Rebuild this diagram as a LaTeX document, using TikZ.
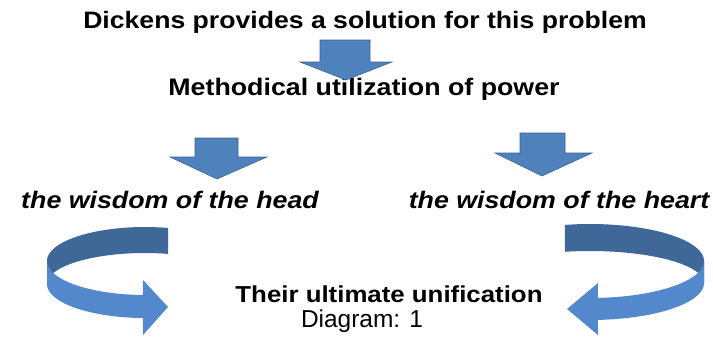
\documentclass[tikz,border=0pt]{standalone}
\usepackage{fontspec}
\setmainfont{Liberation Sans}
\newfontfamily\widesans[FakeStretch=1.12]{Liberation Sans}
\usepackage{tikz}
\definecolor{dblue}{HTML}{4F81BD}
\definecolor{dblueedge}{HTML}{3B6494}
\definecolor{ringback}{HTML}{3F6899}
\definecolor{ringfront}{HTML}{5488CC}
\tikzset{
  headline/.style={anchor=base, inner sep=0pt, text=black},
  boldline/.style={headline, font=\widesans\bfseries\fontsize{#1}{#1}\selectfont},
  slantline/.style={headline, font=\widesans\bfseries\itshape\fontsize{#1}{#1}\selectfont},
  plainline/.style={headline, font=\fontsize{#1}{#1}\selectfont},
  blockarr/.style={fill=dblue, draw=dblueedge, line width=0.4pt, line join=miter},
  ringbk/.style={fill=ringback},
  ringfr/.style={fill=ringfront},
}

\begin{document}
\begin{tikzpicture}[x=0.025cm, y=-0.025cm]
  \useasboundingbox (0,0) rectangle (713,344);

  % texts
  \node[boldline=16.9] (problem) at (365,28) {Dickens provides a solution for this problem};
  \node[boldline=17] (method) at (364,95) {Methodical utilization of power};
  \node[slantline=17] (head) at (170,208) {the wisdom of the head};
  \node[slantline=17] (heart) at (559,208) {the wisdom of the heart};
  \node[boldline=16.4] (unify) at (389,302) {Their ultimate unification};
  \node[plainline=17.4] (caption) at (362,327) {Diagram: 1};

  % block arrows
  \draw[blockarr] (320,40) -- (370,40) -- (370,62) -- (392,62) -- (346,80)
    -- (300,62) -- (320,62) -- cycle;
  \draw[blockarr] (195,138) -- (238,138) -- (238,157) -- (267,157) -- (217,179)
    -- (170,157) -- (195,157) -- cycle;
  \draw[blockarr] (520,133) -- (565,133) -- (565,153) -- (592,153) -- (542,176)
    -- (495,153) -- (520,153) -- cycle;

  % left ring: back half, then front half with head
  \fill[ringbk] plot[domain=-76.4:-180, samples=40] ({145+98*cos(\x)},{261+34*sin(\x)})
    -- plot[domain=-180:-76.4, samples=40] ({145+98*cos(\x)},{284+31*sin(\x)}) -- cycle;
  \fill[ringfr] plot[domain=180:91.2, samples=40] ({145+98*cos(\x)},{261+34*sin(\x)})
    -- (143,280) -- (168,307) -- (143,335)
    -- plot[domain=91.2:180, samples=40] ({145+98*cos(\x)},{284+34*sin(\x)}) -- cycle;

  % right ring
  \fill[ringbk] plot[domain=-102.7:0, samples=40] ({590+114*cos(\x)},{261+37*sin(\x)})
    -- plot[domain=0:-102.7, samples=40] ({590+114*cos(\x)},{283+32*sin(\x)}) -- cycle;
  \fill[ringfr] plot[domain=0:86, samples=40] ({590+114*cos(\x)},{261+37*sin(\x)})
    -- (598,283) -- (567,309) -- (598,335)
    -- plot[domain=86:0, samples=40] ({590+114*cos(\x)},{283+37*sin(\x)}) -- cycle;
\end{tikzpicture}
\end{document}
